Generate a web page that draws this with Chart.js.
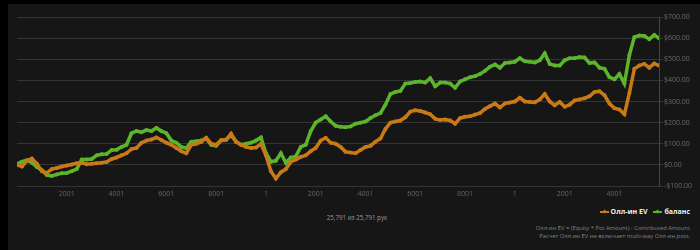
<!DOCTYPE html>
<html>
<head>
<meta charset="utf-8">
<script src="https://cdn.jsdelivr.net/npm/chart.js@4"></script>
<style>
    html, body { margin: 0; padding: 0; background: #000; width: 700px; height: 250px; overflow: hidden; font-family: "Open Sans", sans-serif; }
    #panel { position: absolute; left: 8px; top: 4px; width: 692px; height: 246px; background: #161616; }
    #wrap { position: absolute; left: 0; top: 0; width: 692px; height: 200px; }
    #count { position: absolute; left: 3px; width: 692px; top: 209px; text-align: center; font-size: 6.2px; color: #9a9a9a; }
    #legend { position: absolute; right: 10px; top: 203px; font-size: 7px; font-weight: bold; color: #eee; white-space: nowrap; }
    #legend span { display: inline-block; margin-left: 6px; }
    #legend i { display: inline-block; position: relative; width: 9px; height: 2px; vertical-align: middle; margin-right: 2px; }
    #legend i b { position: absolute; left: 3px; top: -1px; width: 3px; height: 3px; transform: rotate(45deg); }
    #notes { position: absolute; right: 10px; top: 221px; font-size: 5.8px; line-height: 7.5px; color: #858585; text-align: right; white-space: nowrap; }
</style>
</head>
<body>
<div id="panel">
    <div id="wrap"><canvas id="chartviewport"></canvas></div>
    <div id="count">25,791 из 25,791 рук</div>
    <div id="legend"></div>
    <div id="notes">Олл-ин EV = (Equity * Pot Amount) - Contributed Amount<br>Расчет Олл-ин EV не включает multi-way Олл-ин pots.</div>
</div>
<script>
// hand offsets (every 200 hands, last = total hands played)
var hands = [];
for ( var h = 0; h <= 25600; h += 200 ) { hands.push( h ); }
hands.push( 25790 );

// where the x labels go (hand offset); label shown is the hand number within each 10000 block
var tickHands = [ 2000, 4000, 6000, 8000, 10000, 12000, 14000, 16000, 18000, 20000, 22000, 24000 ];

var evValues = [
    0, -8, 20, 30, 5, -30, -38, -20, -15, -8,
    -3, 2, 8, 10, 3, 5, 8, 10, 14, 28,
    35, 45, 55, 75, 80, 105, 115, 120, 130, 118,
    105, 95, 80, 65, 55, 95, 100, 108, 128, 100,
    95, 118, 120, 148, 110, 95, 85, 80, 82, 100,
    45, -30, -65, -35, -20, 15, 25, 38, 45, 65,
    80, 115, 128, 105, 100, 85, 62, 58, 55, 70,
    85, 90, 110, 125, 170, 200, 205, 210, 225, 252,
    258, 255, 248, 240, 218, 212, 215, 210, 195, 222,
    228, 230, 238, 245, 265, 278, 290, 272, 290, 295,
    300, 318, 300, 298, 296, 310, 335, 300, 282, 298,
    275, 285, 305, 310, 315, 325, 345, 348, 330, 290,
    268, 262, 240, 340, 455, 470, 478, 460, 480, 470
];
var balanceValues = [
    5, 15, 22, 10, -10, -25, -48, -52, -45, -40,
    -38, -30, -20, 25, 25, 28, 45, 50, 52, 70,
    72, 85, 95, 150, 160, 155, 165, 160, 175, 160,
    150, 115, 105, 85, 80, 110, 112, 115, 125, 95,
    90, 115, 118, 140, 110, 95, 100, 105, 115, 130,
    55, 15, 20, 55, 10, 35, 40, 85, 95, 160,
    200, 215, 230, 205, 185, 180, 178, 182, 195, 200,
    205, 222, 235, 245, 285, 335, 345, 350, 385, 388,
    392, 395, 390, 410, 372, 390, 390, 385, 365, 395,
    405, 415, 420, 430, 445, 465, 475, 460, 482, 485,
    488, 505, 490, 488, 485, 495, 528, 478, 470, 470,
    495, 505, 505, 510, 508, 482, 485, 460, 455, 415,
    405, 430, 385, 520, 605, 612, 610, 595, 615, 600
];
var seriesNames = [ 'Олл-ин EV', 'баланс' ];
var seriesColors = [ '#c97a17', '#5cb52b' ];

function money( v ) {
    return ( v < 0 ? '-$' : '$' ) + Math.abs( v ).toFixed( 2 );
}

var tickFont = { family: '"Open Sans", sans-serif', size: 7 };

var chart = new Chart( document.getElementById('chartviewport'), {
    type: 'line',
    data: {
        labels: hands,
        datasets: [{
            label: seriesNames[0],
            data: evValues,
            borderColor: seriesColors[0],
            backgroundColor: seriesColors[0],
            borderWidth: 3.5,
            pointRadius: 2,
            pointBorderWidth: 0,
            tension: 0
        }, {
            label: seriesNames[1],
            data: balanceValues,
            borderColor: seriesColors[1],
            backgroundColor: seriesColors[1],
            borderWidth: 3.5,
            pointRadius: 2,
            pointBorderWidth: 0,
            tension: 0
        }]
    },
    options: {
        responsive: true,
        maintainAspectRatio: false,
        animation: false,
        layout: { padding: { left: 9, top: 13, right: 0, bottom: 0 } },
        plugins: { legend: { display: false }, tooltip: { enabled: false } },
        scales: {
            x: {
                type: 'linear',
                min: 0,
                max: 25790,
                grid: { display: false, drawTicks: false },
                border: { display: false },
                afterBuildTicks: function ( scale ) {
                    scale.ticks = tickHands.map( function ( v ) { return { value: v }; } );
                },
                ticks: {
                    autoSkip: false,
                    maxRotation: 0,
                    padding: 4,
                    color: '#666',
                    font: tickFont,
                    callback: function ( v ) { return String( v % 10000 + 1 ); }
                },
                afterFit: function ( scale ) { scale.height = 18; }
            },
            y: {
                position: 'right',
                min: -100,
                max: 700,
                grid: { color: '#343434', tickLength: 4 },
                border: { display: true, color: '#444' },
                ticks: {
                    stepSize: 100,
                    padding: 1,
                    color: '#6a6a6a',
                    font: tickFont,
                    callback: function ( v ) { return money( v ); }
                },
                afterFit: function ( scale ) { scale.width = 41; }
            }
        }
    }
});

// legend
var legendHtml = '';
for ( var i = 0; i < seriesNames.length; i++ ) {
    legendHtml += '<span><i style="background:' + seriesColors[i] + '"><b style="background:' + seriesColors[i] + '"></b></i>' + seriesNames[i] + '</span>';
}
document.getElementById('legend').innerHTML = legendHtml;
</script>
</body>
</html>
